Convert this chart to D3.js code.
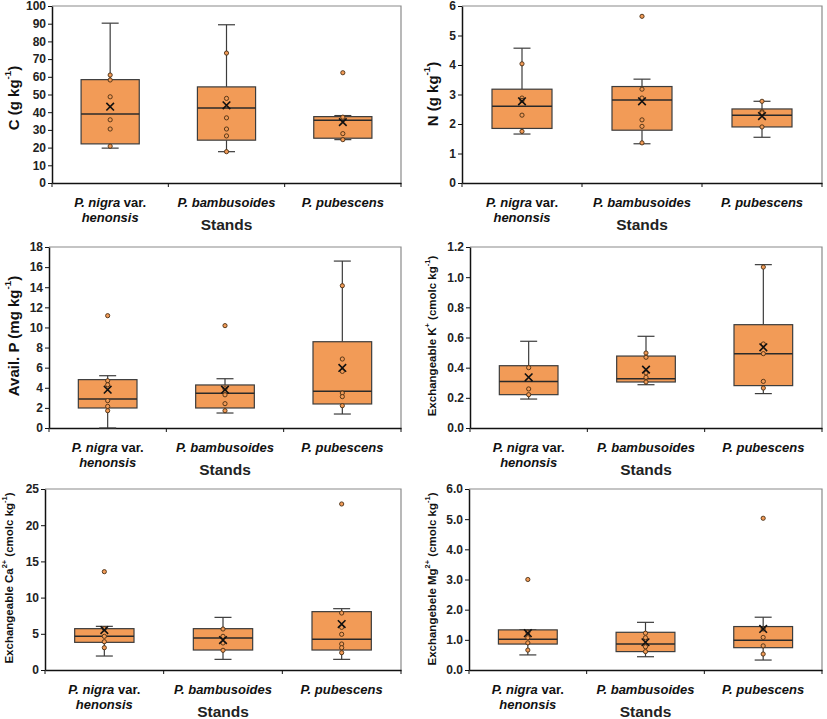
<!DOCTYPE html>
<html><head><meta charset="utf-8">
<script src="https://cdn.jsdelivr.net/npm/d3@7"></script>
<style>body{margin:0;background:#fff} svg{display:block}</style>
</head><body>
<svg id="chart" width="827" height="719"></svg>
<script>
const categories = ["P. nigra var. henonsis", "P. bambusoides", "P. pubescens"];

// box stats per stand: [whiskerLow, q1, median, q3, whiskerHigh]
const cBox = [[19.7, 22.1, 39.0, 58.4, 90.3], [17.7, 24.2, 42.4, 54.3, 89.4], [24.5, 25.3, 35.5, 37.5, 38.1]];
const cMean = [43.1, 43.9, 34.4];
const cPoints = [[61.0, 58.2, 48.7, 35.7, 30.5, 20.8], [73.4, 47.8, 36.8, 30.5, 26.6, 17.7], [62.3, 37.2, 27.9, 24.5]];
const cTicks = [0, 10, 20, 30, 40, 50, 60, 70, 80, 90, 100];

const nBox = [[1.66, 1.85, 2.60, 3.18, 4.57], [1.33, 1.79, 2.81, 3.27, 3.52], [1.55, 1.90, 2.30, 2.51, 2.77]];
const nMean = [2.77, 2.77, 2.27];
const nPoints = [[4.04, 2.88, 2.80, 2.30, 1.75], [5.65, 3.18, 2.88, 2.14, 1.92, 1.36], [2.77, 2.42, 2.38, 1.90]];
const nTicks = [0, 1, 2, 3, 4, 5, 6];

const pBox = [[0.0, 1.99, 2.88, 4.81, 5.2], [1.49, 1.99, 3.45, 4.28, 4.9], [1.39, 2.39, 3.65, 8.58, 16.6]];
const pMean = [3.81, 3.81, 5.97];
const pPoints = [[11.17, 4.7, 4.3, 2.72, 2.15, 1.72], [10.18, 3.9, 3.3, 2.42, 1.72], [14.15, 6.86, 5.63, 3.48, 3.12, 2.22]];
const pTicks = [0, 2, 4, 6, 8, 10, 12, 14, 16, 18];

const kBox = [[0.192, 0.221, 0.309, 0.413, 0.575], [0.287, 0.305, 0.327, 0.477, 0.608], [0.228, 0.281, 0.493, 0.685, 1.083]];
const kMean = [0.336, 0.387, 0.535];
const kPoints = [[0.40, 0.259, 0.221], [0.497, 0.469, 0.365, 0.336, 0.305], [1.067, 0.557, 0.493, 0.309, 0.265]];
const kTicks = [0, 0.2, 0.4, 0.6, 0.8, 1.0, 1.2];

const caBox = [[1.93, 3.82, 4.65, 5.71, 6.03], [1.47, 2.76, 4.42, 5.71, 7.27], [1.47, 2.76, 4.24, 8.06, 8.47]];
const caMean = [5.52, 4.14, 6.35];
const caPoints = [[13.58, 5.71, 4.65, 3.91, 3.08], [5.66, 4.65, 3.73, 2.72], [22.93, 7.87, 5.89, 4.93, 3.59, 3.08, 2.39]];
const caTicks = [0, 5, 10, 15, 20, 25];

const mgBox = [[0.50, 0.86, 1.02, 1.33, 1.33], [0.44, 0.61, 0.86, 1.25, 1.58], [0.33, 0.74, 0.99, 1.44, 1.75]];
const mgMean = [1.22, 0.92, 1.36];
const mgPoints = [[3.0, 1.25, 1.07, 0.90, 0.66], [1.22, 1.07, 0.77, 0.61], [5.03, 1.36, 1.08, 0.80, 0.53]];
const mgTicks = [0, 1, 2, 3, 4, 5, 6];

const FONT = "'Liberation Sans', Arial, sans-serif";
const FILL = "#F29B57";
const STROKE = "#3c3c3c";
const svg = d3.select("#chart");

const panels = [
  {box: cBox, mean: cMean, pts: cPoints, ticks: cTicks, fmt: d3.format("d"), left: 52, right: 401, top: 6, bottom: 183,
   title: [["C (g kg", 0], ["-1", 1], [")", 0]], titleSize: 15, titleX: 13, titleY: 98},
  {box: nBox, mean: nMean, pts: nPoints, ticks: nTicks, fmt: d3.format("d"), left: 462, right: 822, top: 6, bottom: 183,
   title: [["N (g kg", 0], ["-1", 1], [")", 0]], titleSize: 15, titleX: 432, titleY: 94},
  {box: pBox, mean: pMean, pts: pPoints, ticks: pTicks, fmt: d3.format("d"), left: 49, right: 401, top: 247, bottom: 428,
   title: [["Avail. P (mg kg", 0], ["-1", 1], [")", 0]], titleSize: 15, titleX: 13, titleY: 336},
  {box: kBox, mean: kMean, pts: kPoints, ticks: kTicks, fmt: d3.format(".1f"), left: 470, right: 822, top: 247, bottom: 428,
   title: [["Exchangeable K", 0], ["+", 1], [" (cmolc kg", 0], ["-1", 1], [")", 0]], titleSize: 11.5, titleX: 432, titleY: 336},
  {box: caBox, mean: caMean, pts: caPoints, ticks: caTicks, fmt: d3.format("d"), left: 45, right: 401, top: 489, bottom: 670,
   title: [["Exchangeable Ca", 0], ["2+", 1], [" (cmolc kg", 0], ["-1", 1], [")", 0]], titleSize: 11.5, titleX: 9, titleY: 578},
  {box: mgBox, mean: mgMean, pts: mgPoints, ticks: mgTicks, fmt: d3.format(".1f"), left: 469, right: 822, top: 489, bottom: 670,
   title: [["Exchangebele Mg", 0], ["2+", 1], [" (cmolc kg", 0], ["-1", 1], [")", 0]], titleSize: 11.5, titleX: 432, titleY: 579}
];

function drawPanel(p) {
  const g = svg.append("g");
  const x = d3.scaleBand().domain(categories).range([p.left, p.right]).padding(0);
  const maxV = p.ticks[p.ticks.length - 1];
  const y = d3.scaleLinear().domain([0, maxV]).range([p.bottom, p.top]);
  const bw = x.bandwidth() * 0.5;
  const cap = 8.5;

  // frame top & right (gray)
  g.append("path")
    .attr("d", `M${p.left},${p.top}H${p.right}V${p.bottom}`)
    .attr("fill", "none").attr("stroke", "#8a8a8a").attr("stroke-width", 1.2);

  // y axis
  const ya = g.append("g").attr("transform", `translate(${p.left},0)`)
    .call(d3.axisLeft(y).tickValues(p.ticks).tickFormat(p.fmt).tickSize(4).tickSizeOuter(0));
  ya.select(".domain").attr("stroke", "#111").attr("stroke-width", 1.5);
  ya.selectAll(".tick line").attr("stroke", "#111");
  ya.selectAll(".tick text").attr("font-family", FONT).attr("font-weight", "bold")
    .attr("font-size", 12).attr("fill", "#222").attr("x", -6);

  // x axis
  const xa = g.append("g").attr("transform", `translate(0,${p.bottom})`)
    .call(d3.axisBottom(x).tickSize(0).tickFormat("").tickSizeOuter(0));
  xa.select(".domain").attr("stroke", "#111").attr("stroke-width", 1.5);
  const bounds = categories.map(c => x(c)).concat([p.right]);
  g.selectAll(".xt").data(bounds).join("line")
    .attr("x1", d => d).attr("x2", d => d)
    .attr("y1", p.bottom).attr("y2", p.bottom + 4)
    .attr("stroke", "#111").attr("stroke-width", 1);

  // category labels
  categories.forEach((c, i) => {
    const cx = x(c) + x.bandwidth() / 2;
    const t = g.append("text").attr("x", cx).attr("y", p.bottom + 24)
      .attr("text-anchor", "middle").attr("font-family", FONT)
      .attr("font-weight", "bold").attr("font-size", 13).attr("fill", "#111");
    if (i === 0) {
      t.append("tspan").attr("font-style", "italic").text("P. nigra");
      t.append("tspan").text(" var.");
      g.append("text").attr("x", cx).attr("y", p.bottom + 39)
        .attr("text-anchor", "middle").attr("font-family", FONT)
        .attr("font-weight", "bold").attr("font-style", "italic").attr("font-size", 13).attr("fill", "#111")
        .text("henonsis");
    } else {
      t.attr("font-style", "italic").text(c);
    }
  });

  // x title
  g.append("text").attr("x", (p.left + p.right) / 2).attr("y", p.bottom + 47)
    .attr("text-anchor", "middle").attr("font-family", FONT).attr("font-weight", "bold")
    .attr("font-size", 15.5).attr("fill", "#222").text("Stands");

  // y title
  const yt = g.append("text").attr("transform", `translate(${p.titleX},${p.titleY}) rotate(-90)`)
    .attr("text-anchor", "middle").attr("dominant-baseline", "central")
    .attr("font-family", FONT).attr("font-weight", "bold").attr("font-size", p.titleSize).attr("fill", "#111");
  p.title.forEach(([s, sup]) => {
    const ts = yt.append("tspan").text(s);
    if (sup) ts.attr("font-size", p.titleSize * 0.65).attr("baseline-shift", "super");
  });

  // boxes
  categories.forEach((c, i) => {
    const [lo, q1, med, q3, hi] = p.box[i];
    const cx = x(c) + x.bandwidth() / 2;
    const bg = g.append("g");
    // whiskers
    bg.append("line").attr("x1", cx).attr("x2", cx).attr("y1", y(q3)).attr("y2", y(hi)).attr("stroke", STROKE).attr("stroke-width", 1.2);
    bg.append("line").attr("x1", cx).attr("x2", cx).attr("y1", y(q1)).attr("y2", y(lo)).attr("stroke", STROKE).attr("stroke-width", 1.2);
    bg.append("line").attr("x1", cx - cap).attr("x2", cx + cap).attr("y1", y(hi)).attr("y2", y(hi)).attr("stroke", STROKE).attr("stroke-width", 1.2);
    bg.append("line").attr("x1", cx - cap).attr("x2", cx + cap).attr("y1", y(lo)).attr("y2", y(lo)).attr("stroke", STROKE).attr("stroke-width", 1.2);
    // box
    bg.append("rect").attr("x", cx - bw / 2).attr("width", bw)
      .attr("y", y(q3)).attr("height", y(q1) - y(q3))
      .attr("fill", FILL).attr("stroke", STROKE).attr("stroke-width", 1.2);
    bg.append("line").attr("x1", cx - bw / 2).attr("x2", cx + bw / 2).attr("y1", y(med)).attr("y2", y(med))
      .attr("stroke", "#2a2a2a").attr("stroke-width", 1.5);
    // points
    bg.selectAll("circle").data(p.pts[i]).join("circle")
      .attr("cx", cx).attr("cy", d => y(d)).attr("r", 2.1)
      .attr("fill", FILL).attr("stroke", "#4a2e12").attr("stroke-width", 0.9);
    // mean marker
    const my = y(p.mean[i]), m = 3.8;
    bg.append("path").attr("d", `M${cx - m},${my - m}L${cx + m},${my + m}M${cx - m},${my + m}L${cx + m},${my - m}`)
      .attr("stroke", "#111").attr("stroke-width", 1.6);
  });
}

panels.forEach(drawPanel);
</script>
</body></html>
